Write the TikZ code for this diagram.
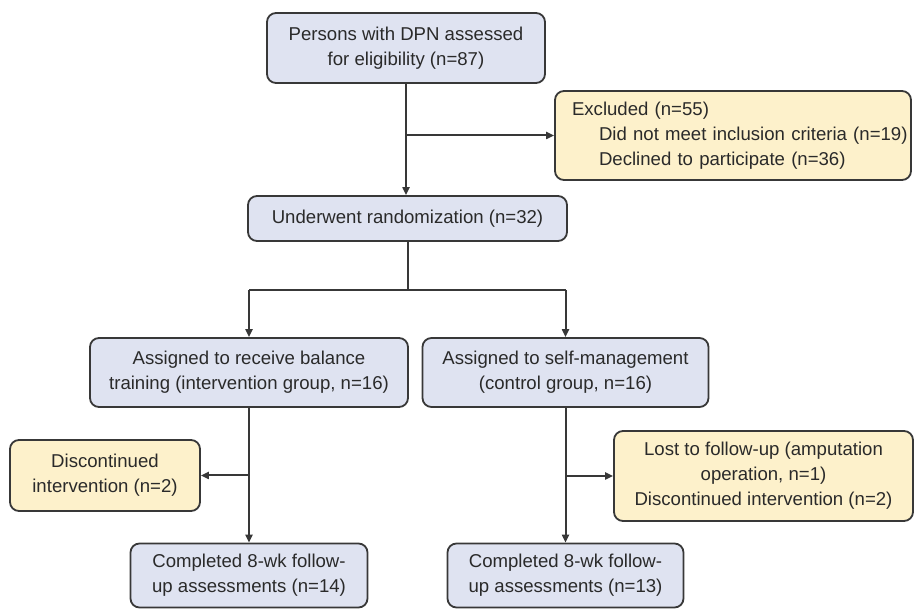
\documentclass[tikz,border=0pt]{standalone}
\usepackage{fontspec}
\setmainfont{Liberation Sans}
\usetikzlibrary{arrows.meta}
\definecolor{boxblue}{HTML}{DFE3F1}
\definecolor{boxyellow}{HTML}{FDF1CB}
\definecolor{edge}{HTML}{383838}
\definecolor{txt}{HTML}{2A2A2A}
\tikzset{
  basebox/.style={draw=edge, line width=1.8pt, rounded corners=9pt, text=txt,
    inner sep=0pt, align=center, font=\fontsize{18.6}{25}\selectfont},
  bluebox/.style={basebox, fill=boxblue},
  yellowbox/.style={basebox, fill=boxyellow},
  conn/.style={draw=edge, line width=2pt},
  arr/.style={conn, -{Triangle[length=8pt,width=7pt]}}
}
\begin{document}
\begin{tikzpicture}[x=1pt,y=1pt]
\useasboundingbox (0,0) rectangle (916,609);
\node[bluebox, minimum width=278pt, minimum height=70pt] (top) at (406,561)
  {Persons with DPN assessed\\for eligibility (n=87)};
\node[yellowbox, minimum width=356pt, minimum height=89pt, align=left, text width=354pt] (excl) at (733,473.5)
  {\hspace*{16pt}Excluded (n=55)\\\hspace*{43pt}Did not meet inclusion criteria (n=19)\\\hspace*{43pt}Declined to participate (n=36)};
\node[bluebox, minimum width=319pt, minimum height=45pt] (rand) at (407.5,390.5)
  {Underwent randomization (n=32)};
\node[bluebox, minimum width=318pt, minimum height=69pt] (la) at (249,236.5)
  {Assigned to receive balance\\training (intervention group, n=16)};
\node[bluebox, minimum width=286pt, minimum height=69pt] (ra) at (565.5,236.5)
  {Assigned to self-management\\(control group, n=16)};
\node[yellowbox, minimum width=190pt, minimum height=71pt] (dl) at (105,133.5)
  {Discontinued\\intervention (n=2)};
\node[yellowbox, minimum width=299pt, minimum height=90pt] (lost) at (763.5,133)
  {Lost to follow-up (amputation\\operation, n=1)\\Discontinued intervention (n=2)};
\node[bluebox, minimum width=237pt, minimum height=64pt] (cl) at (249,33.5)
  {Completed 8-wk follow-\\up assessments (n=14)};
\node[bluebox, minimum width=236pt, minimum height=64pt] (cr) at (565.5,33.5)
  {Completed 8-wk follow-\\up assessments (n=13)};
\coordinate (split) at (407.5,319);
% connectors
\draw[arr] (top.south) -- (top.south |- rand.north);
\draw[arr] (top.south |- excl.west) -- (excl.west);
\draw[conn] (rand.south) -- (split);
\draw[conn] (la.north |- split) -- (ra.north |- split);
\draw[arr] (la.north |- split) -- (la.north);
\draw[arr] (ra.north |- split) -- (ra.north);
\draw[arr] (la.south) -- (cl.north);
\draw[arr] (la.south |- dl.east) -- (dl.east);
\draw[arr] (ra.south) -- (cr.north);
\draw[arr] (ra.south |- lost.west) -- (lost.west);
\end{tikzpicture}
\end{document}
